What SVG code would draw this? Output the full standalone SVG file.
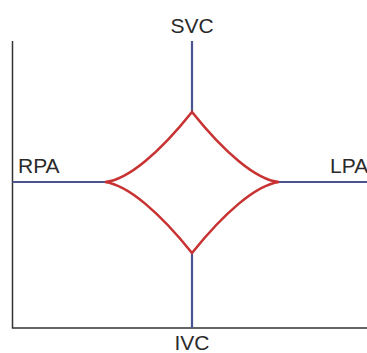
<svg xmlns="http://www.w3.org/2000/svg" width="367" height="353" viewBox="0 0 367 353">
<style>
.lbl{font-family:"Liberation Sans",Arial,sans-serif;font-size:21px;fill:#2a2a2a}
.axis{stroke:#333;stroke-width:1.5;fill:none}
.vessel{stroke:#4a5590;stroke-width:2.2;fill:none}
.heart{stroke:#c83232;stroke-width:2.6;fill:none;stroke-linejoin:miter}
</style>
<rect width="367" height="353" fill="#fff"/>
<g id="axes">
<path class="axis" d="M12.5 41 V328 H367"/>
</g>
<g id="connectors">
<line class="vessel" x1="192" y1="41" x2="192" y2="112"/>
<line class="vessel" x1="192" y1="253" x2="192" y2="328"/>
<line class="vessel" x1="12.5" y1="182" x2="105" y2="182"/>
<line class="vessel" x1="279" y1="182" x2="367" y2="182"/>
</g>
<g id="heart">
<path class="heart" d="M105 182 C128 180 160 152 192 112 C224 152 256 180 279 182 C256 185 224 213 192 253 C160 213 128 185 105 182 Z"/>
</g>
<g id="SVC"><text class="lbl" x="192" y="33" text-anchor="middle">SVC</text></g>
<g id="RPA"><text class="lbl" x="18" y="173">RPA</text></g>
<g id="LPA"><text class="lbl" x="330" y="173">LPA</text></g>
<g id="IVC"><text class="lbl" x="192" y="350" text-anchor="middle">IVC</text></g>
</svg>
